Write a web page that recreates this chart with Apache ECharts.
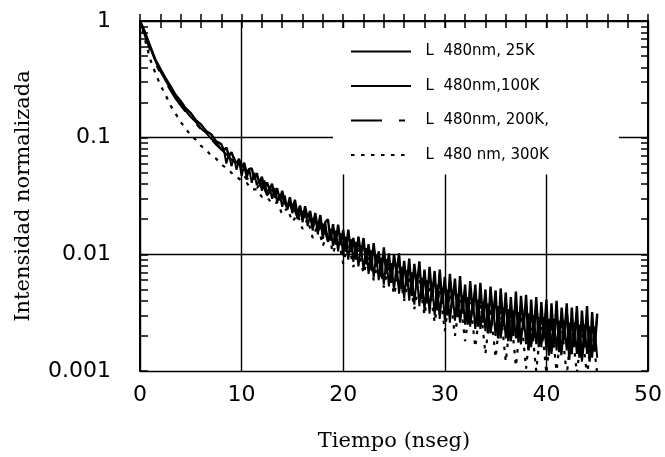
<!DOCTYPE html>
<html><head><meta charset="utf-8">
<script src="https://cdn.jsdelivr.net/npm/echarts@6/dist/echarts.min.js"></script>
<style>html,body{margin:0;padding:0;background:#fff}#c{width:665px;height:457px}</style>
</head><body><div id="c"></div>
<script>
// ---- data ----
const nombres = ['L  480nm, 25K', 'L  480nm,100K', 'L  480nm, 200K,', 'L  480 nm, 300K'];

// sampling times (ns) for the 200K and 300K curves
const tiempo = [0,0.5,1,1.5,2,2.5,3,3.5,4,4.5,5,5.5,6,6.5,7,7.5,8,8.5,9,9.5,10,10.5,11,11.5,12,12.5,13,13.5,14,14.5,15,15.5,16,16.5,17,17.5,18,18.5,19,19.5,20,20.5,21,21.5,22,22.5,23,23.5,24,24.5,25,25.5,26,26.5,27,27.5,28,28.5,29,29.5,30,30.5,31,31.5,32,32.5,33,33.5,34,34.5,35,35.5,36,36.5,37,37.5,38,38.5,39,39.5,40,40.5,41,41.5,42,42.5,43,43.5,44,44.5,45];

// sampling times (ns) for the 25K and 100K curves
const tiempoFino = [0,0.5,1,1.5,2,2.5,3,3.5,4,4.5,5,5.5,6,6.5,7,7.5,8,
8.25,8.5,8.75,9,9.25,9.5,9.75,10,10.25,10.5,10.75,11,11.25,11.5,11.75,12,12.25,12.5,12.75,13,13.25,13.5,13.75,14,14.25,14.5,14.75,15,15.25,15.5,15.75,16,16.25,16.5,16.75,17,17.25,17.5,17.75,18,18.25,18.5,18.75,19,19.25,19.5,19.75,20,20.25,20.5,20.75,21,21.25,21.5,21.75,22,22.25,22.5,22.75,23,23.25,23.5,23.75,24,24.25,24.5,24.75,25,25.25,25.5,25.75,26,26.25,26.5,26.75,27,27.25,27.5,27.75,28,28.25,28.5,28.75,29,29.25,29.5,29.75,30,30.25,30.5,30.75,31,31.25,31.5,31.75,32,32.25,32.5,32.75,33,33.25,33.5,33.75,34,34.25,34.5,34.75,35,35.25,35.5,35.75,36,36.25,36.5,36.75,37,37.25,37.5,37.75,38,38.25,38.5,38.75,39,39.25,39.5,39.75,40,40.25,40.5,40.75,41,41.25,41.5,41.75,42,42.25,42.5,42.75,43,43.25,43.5,43.75,44,44.25,44.5,44.75,45];

const i25K = [1.0,0.80,0.61,0.47,0.39,0.325,0.277,0.233,0.206,0.178,0.162,0.141,0.130,0.114,0.107,0.093,0.088,
0.078,0.082,0.070,0.075,0.066,0.060,0.066,0.0555,0.061,0.050,
0.054,0.0545,0.0437,0.0497,0.0405,0.0462,0.0365,0.0413,0.036,0.0403,
0.0305,0.0369,0.029,0.035,0.0277,0.025,0.0309,0.0239,0.0294,0.0217,
0.0262,0.0198,0.0258,0.0204,0.0236,0.017,0.0226,0.0165,0.0217,0.0147,
0.0189,0.020,0.0131,0.0181,0.0121,0.018,0.012,0.0162,0.0105,0.0163,
0.0105,0.0138,0.009,0.0142,0.010,0.0138,0.0082,0.0122,0.0074,0.0125,
0.0078,0.0106,0.0064,0.0115,0.0068,0.0102,0.0057,0.010,0.0068,0.0102,
0.005,0.0088,0.0053,0.0092,0.0044,0.0083,0.0053,0.0087,0.0041,0.0074,
0.0038,0.0078,0.0043,0.0072,0.0033,0.0074,0.0038,0.0064,0.003,0.0068,
0.0037,0.0062,0.0029,0.0065,0.0031,0.0055,0.0025,0.0059,0.0031,0.0055,
0.0024,0.0057,0.0026,0.005,0.0021,0.0053,0.0028,0.0049,0.0019,0.0051,
0.0024,0.0047,0.0018,0.0043,0.002,0.0048,0.0018,0.0044,0.0023,0.0045,
0.0015,0.0041,0.0019,0.0043,0.0016,0.0039,0.0019,0.0041,0.00135,0.0038,
0.0017,0.004,0.00145,0.0035,0.00185,0.0038,0.00125,0.0035,0.0016,0.0036,
0.0013,0.0033,0.0016,0.0036,0.0012,0.0032,0.0015,0.0031];

const i100K = [1.0,0.79,0.59,0.455,0.37,0.31,0.262,0.224,0.194,0.170,0.150,0.136,0.120,0.110,0.098,0.090,0.080,
0.079,0.060,0.073,0.057,0.068,0.053,0.064,0.047,0.058,0.045,
0.054,0.041,0.050,0.039,0.044,0.035,0.043,0.033,0.038,0.030,
0.037,0.028,0.033,0.0255,0.032,0.024,0.028,0.0225,0.028,0.020,
0.026,0.0188,0.0245,0.0175,0.0215,0.016,0.021,0.0148,0.0196,0.0136,
0.0182,0.0128,0.0165,0.0118,0.016,0.0106,0.0152,0.0098,0.0142,0.009,
0.0135,0.0086,0.0128,0.0079,0.0115,0.0074,0.0113,0.0068,0.0108,0.0063,
0.0100,0.0060,0.0094,0.0055,0.0091,0.0053,0.0084,0.0049,0.0082,0.0046,
0.0078,0.0042,0.0073,0.0040,0.0070,0.0037,0.0066,0.0036,0.0063,0.0033,
0.0060,0.0031,0.0057,0.0030,0.0055,0.0028,0.0052,0.0027,0.0050,0.0026,
0.0049,0.0027,0.0046,0.0026,0.0045,0.0025,0.0043,0.0024,0.0042,0.0023,
0.0041,0.0023,0.0039,0.0022,0.0038,0.0021,0.0036,0.0020,0.0036,0.0020,
0.0035,0.0019,0.0034,0.0018,0.0033,0.0019,0.0032,0.0017,0.0031,0.0017,
0.0031,0.0016,0.0030,0.0017,0.0029,0.0016,0.0029,0.0015,0.0028,0.0016,
0.0028,0.0015,0.0027,0.0014,0.0027,0.0015,0.0026,0.0014,0.0026,0.0014,
0.0025,0.0013,0.0025,0.0014,0.0024,0.0013,0.0024,0.0013];

const i200K = [1.0,0.74,0.56,0.435,0.36,0.30,0.254,0.216,0.189,0.166,
0.147,0.132,0.118,0.107,0.097,0.087,0.079,0.072,0.065,0.060,
0.050,0.044,0.047,0.037,0.041,0.032,0.036,0.028,0.031,0.024,
0.027,0.0205,0.0235,0.0175,0.0205,0.015,0.0183,0.0128,0.0163,0.0112,
0.0145,0.0098,0.0130,0.0087,0.0118,0.0077,0.0106,0.0068,0.0096,0.0060,
0.0088,0.0053,0.0080,0.0047,0.0073,0.0042,0.0068,0.0037,0.0062,0.0033,
0.0058,0.0030,0.0054,0.0027,0.0050,0.0025,0.0048,0.0023,0.0045,0.0021,
0.0043,0.0019,0.0041,0.0018,0.0040,0.0017,0.0038,0.0016,0.0037,0.0015,
0.0035,0.0014,0.0034,0.0013,0.0033,0.0013,0.0032,0.0012,0.0031,0.0012,
0.0029];

const i300K = [1.0,0.69,0.47,0.36,0.283,0.234,0.189,0.161,0.136,0.120,
0.104,0.096,0.085,0.079,0.070,0.066,0.059,0.055,0.050,0.046,
0.043,0.041,0.036,0.036,0.031,0.031,0.027,0.028,0.022,0.025,
0.019,0.022,0.0165,0.020,0.0138,0.018,0.0118,0.0158,0.0102,0.0142,
0.0083,0.0128,0.0078,0.0112,0.0068,0.0100,0.0060,0.0090,0.0052,0.0082,
0.0045,0.0072,0.0040,0.0066,0.0034,0.0060,0.0030,0.0055,0.0026,0.0050,
0.0022,0.0046,0.0020,0.0042,0.0018,0.0039,0.0016,0.0037,0.0014,0.0035,
0.0013,0.0033,0.0012,0.0031,0.0011,0.0030,0.00105,0.0028,0.0010,0.0027,
0.00095,0.0026,0.0010,0.0025,0.00092,0.0024,0.00096,0.0023,0.0009,0.0023,
0.00095];

const yTickLabels = ['0.001', '0.01', '0.1', '1'];
const yTickMarks = [0.001,0.002,0.003,0.004,0.005,0.006,0.007,0.008,0.009,
  0.01,0.02,0.03,0.04,0.05,0.06,0.07,0.08,0.09,
  0.1,0.2,0.3,0.4,0.5,0.6,0.7,0.8,0.9];
const xTickLabels = ['0', '10', '20', '30', '40', '50'];

// ---- chart ----
const negro = '#000';
const valores = [i25K, i100K, i200K, i300K];
const tiempos = [tiempoFino, tiempoFino, tiempo, tiempo];
const estilos = [
  {width: 2.4, type: 'solid'},
  {width: 2.0, type: 'solid'},
  {width: 2.0, type: [31, 17, 6, 17]},
  {width: 2.2, type: [3.5, 6.5]}
];
const tickLog = yTickMarks.map(v => Math.log10(v));

const chart = echarts.init(document.getElementById('c'), null, {renderer: 'canvas'});
const axLine = {show: true, lineStyle: {color: negro, width: 2}};
const option = {
  backgroundColor: '#fff',
  animation: false,
  grid: {left: 140, right: 17, top: 21, bottom: 84},
  legend: {
    orient: 'vertical', left: 333, top: 28,
    padding: [16, 70, 12, 17],
    backgroundColor: '#fff',
    itemWidth: 60, itemHeight: 16, itemGap: 19.5,
    itemStyle: {opacity: 0},
    textStyle: {fontFamily: 'DejaVu Sans', fontSize: 15, color: negro},
    formatter: n => '  ' + n,
    data: nombres
  },
  xAxis: [
    {
      type: 'value', position: 'bottom', min: 0, max: 50, interval: 10,
      axisLine: axLine,
      axisTick: {inside: true, length: 7, lineStyle: {color: negro, width: 1.5}},
      minorTick: {show: true, splitNumber: 5, length: 7, lineStyle: {color: negro, width: 1.5}},
      splitLine: {show: true, lineStyle: {color: negro, width: 1.4}},
      axisLabel: {
        color: negro, fontFamily: 'DejaVu Sans', fontSize: 22, margin: 13,
        formatter: v => xTickLabels[Math.round(v / 10)]
      },
      name: 'Tiempo (nseg)', nameLocation: 'middle', nameGap: 60,
      nameTextStyle: {fontFamily: 'DejaVu Serif', fontSize: 21, color: negro}
    },
    {
      type: 'value', position: 'top', min: 0, max: 50, interval: 10,
      axisLine: axLine,
      axisTick: {inside: true, length: 7, lineStyle: {color: negro, width: 1.5}},
      minorTick: {show: true, splitNumber: 5, length: 7, lineStyle: {color: negro, width: 1.5}},
      splitLine: {show: false},
      axisLabel: {show: false}
    }
  ],
  yAxis: [
    {
      type: 'log', logBase: 10, min: 0.001, max: 1, position: 'left',
      axisLine: axLine,
      axisTick: {show: false},
      splitLine: {show: true, lineStyle: {color: negro, width: 1.4}},
      axisLabel: {
        color: negro, fontFamily: 'DejaVu Sans', fontSize: 22, margin: 29,
        formatter: v => yTickLabels[Math.round(Math.log10(v)) + 3]
      },
      name: 'Intensidad normalizada', nameLocation: 'middle', nameGap: 106,
      nameTextStyle: {fontFamily: 'DejaVu Serif', fontSize: 21, color: negro}
    },
    {
      type: 'value', min: -3, max: 0, position: 'left',
      axisLine: {show: false},
      axisTick: {show: true, inside: true, length: 8, customValues: tickLog, lineStyle: {color: negro, width: 1.5}},
      axisLabel: {show: false}, splitLine: {show: false}
    },
    {
      type: 'value', min: -3, max: 0, position: 'right',
      axisLine: axLine,
      axisTick: {show: true, inside: true, length: 7, customValues: tickLog, lineStyle: {color: negro, width: 1.5}},
      axisLabel: {show: false}, splitLine: {show: false}
    }
  ],
  series: nombres.map((n, k) => ({
    name: n, type: 'line', xAxisIndex: 0, yAxisIndex: 0,
    data: tiempos[k].map((t, i) => [t, valores[k][i]]),
    symbol: 'none', showSymbol: false, clip: true,
    itemStyle: {color: negro},
    lineStyle: {color: negro, width: estilos[k].width, type: estilos[k].type}
  }))
};
chart.setOption(option);
</script>
</body></html>
